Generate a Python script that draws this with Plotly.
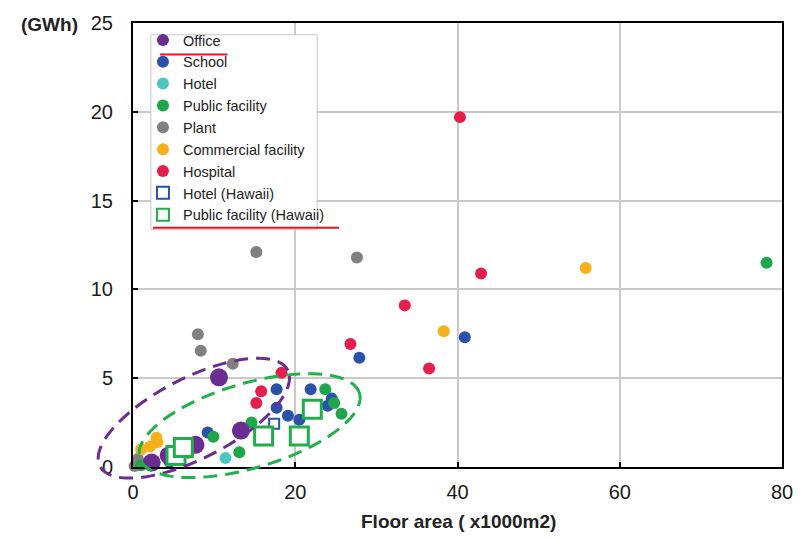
import numpy as np
import plotly.graph_objects as go

# ---- data (floor area x1000 m2, energy GWh) ----
office_x = [2.3, 4.4, 7.7, 13.3, 10.6]
office_y = [0.25, 0.65, 1.25, 2.05, 5.05]

school_x = [40.9, 27.9, 17.7, 17.7, 19.1, 20.5, 21.9, 24.0, 24.5, 9.2, 4.5]
school_y = [7.3, 6.15, 4.38, 3.33, 2.88, 2.66, 4.38, 3.45, 3.85, 1.94, 0.3]

hotel_x = [11.4]
hotel_y = [0.5]

public_x = [78.1, 23.7, 24.8, 25.7, 14.6, 9.9, 13.1, 1.0]
public_y = [11.5, 4.38, 3.6, 3.0, 2.5, 1.7, 0.83, 0.1]

plant_x = [15.2, 27.6, 8.0, 8.35, 12.3, 0.2, 0.6]
plant_y = [12.1, 11.8, 7.48, 6.54, 5.82, 0.05, 0.45]

commercial_x = [55.8, 38.3, 1.0, 2.1, 3.0, 2.9]
commercial_y = [11.2, 7.65, 1.0, 1.15, 1.4, 1.65]

hospital_x = [40.3, 42.9, 33.5, 26.8, 36.5, 18.3, 15.8, 15.2, 6.8]
hospital_y = [19.7, 10.9, 9.1, 6.93, 5.54, 5.3, 4.27, 3.6, 0.8]

hotel_hi_x = [17.4]
hotel_hi_y = [2.44]

public_hi_x = [5.3, 6.2, 16.1, 20.5, 22.1]
public_hi_y = [0.65, 1.1, 1.75, 1.75, 3.25]

x_ticks = [0, 20, 40, 60, 80]
y_ticks = [0, 5, 10, 15, 20, 25]
X_MAX, Y_MAX = 80, 25

# ---- figure ----
W, H = 805, 538
ML, MR, MT, MB = 133, 20, 16, 71
PW, PH = W - ML - MR, H - MT - MB
FONT = "Liberation Sans, Arial"

fig = go.Figure()

def circ(name, xs, ys, color, size, rank):
    fig.add_trace(go.Scatter(
        x=xs, y=ys, mode="markers", name=name, legendrank=rank,
        marker=dict(color=color, size=size, line=dict(width=0)),
        cliponaxis=False))

# drawing order (bottom -> top); legend order by rank
circ("Plant", plant_x, plant_y, "#808080", 12, 5)
circ("Commercial facility", commercial_x, commercial_y, "#f5b21c", 12, 6)
circ("Hospital", hospital_x, hospital_y, "#e61e4b", 12, 7)
circ("School", school_x, school_y, "#2a52a6", 12, 2)
circ("Hotel", hotel_x, hotel_y, "#4cc6c2", 12, 3)
circ("Public facility", public_x, public_y, "#1ea64b", 12, 4)
circ("Office", office_x, office_y, "#6b2d91", 18, 1)

fig.add_trace(go.Scatter(
    x=hotel_hi_x, y=hotel_hi_y, mode="markers", name="Hotel (Hawaii)", legendrank=8,
    marker=dict(symbol="square", color="white", size=10,
                line=dict(color="#2a52a6", width=2)),
    cliponaxis=False))
fig.add_trace(go.Scatter(
    x=public_hi_x, y=public_hi_y, mode="markers", name="Public facility (Hawaii)", legendrank=9,
    marker=dict(symbol="square", color="white", size=18,
                line=dict(color="#22ad4c", width=3)),
    cliponaxis=False))

# ---- annotation shapes (dashed ellipses, legend box, red underlines) ----
def ellipse_path(cx, cy, ax, ay, bx, by, n=120):
    t = np.linspace(0, 2 * np.pi, n)
    xs = cx + ax * np.cos(t) + bx * np.sin(t)
    ys = cy + ay * np.cos(t) + by * np.sin(t)
    pts = [f"{x / X_MAX:.5f},{y / Y_MAX:.5f}" for x, y in zip(xs, ys)]
    return "M " + " L ".join(pts) + " Z"

def px2paper(px, py):
    return (px - ML) / PW, 1 - (py - MT) / PH

shapes = [
    dict(type="path", xref="paper", yref="paper",
         path=ellipse_path(7.5, 2.75, 11.6, 2.68, -2.13, 2.05),
         line=dict(color="#6b2d91", width=3, dash="14px,8px"), layer="above"),
    dict(type="path", xref="paper", yref="paper",
         path=ellipse_path(14.37, 2.33, 13.54, 1.83, -1.51, 2.28),
         line=dict(color="#22b04b", width=3, dash="14px,8px"), layer="above"),
]

bx0, by0 = px2paper(151, 28)
bx1, by1 = px2paper(318, 226)
shapes.append(dict(type="rect", xref="paper", yref="paper",
                   x0=bx0, y0=by0, x1=bx1, y1=by1,
                   fillcolor="white", line=dict(color="#c8c8c8", width=1), layer="above"))

for (x0, x1, yy) in [(160, 228, 48), (153, 340, 224)]:
    a = px2paper(x0, yy)
    b = px2paper(x1, yy)
    shapes.append(dict(type="line", xref="paper", yref="paper",
                       x0=a[0], y0=a[1], x1=b[0], y1=b[1],
                       line=dict(color="#e8141e", width=2), layer="above"))

lx, ly = px2paper(143, 17)
tx, ty = px2paper(460, 522)
gx, gy = px2paper(49, 18)

axis_common = dict(showline=True, linecolor="black", linewidth=2, mirror=True,
                   ticks="inside", ticklen=5, tickwidth=2, tickcolor="black",
                   showgrid=True, gridcolor="#c9c9c9", gridwidth=1.5, zeroline=False,
                   tickfont=dict(family=FONT, size=20, color="#1a1a1a"))

fig.update_layout(
    width=W, height=H,
    margin=dict(l=ML, r=MR, t=MT, b=MB),
    paper_bgcolor="white", plot_bgcolor="white",
    xaxis=dict(range=[0, X_MAX], tickvals=x_ticks, ticklabelstandoff=6, **axis_common),
    yaxis=dict(range=[0, Y_MAX], tickvals=y_ticks, ticklabelstandoff=14, **axis_common),
    showlegend=True,
    legend=dict(x=lx, y=ly, xanchor="left", yanchor="top",
                bgcolor="rgba(0,0,0,0)", borderwidth=0,
                font=dict(family=FONT, size=14.5, color="#222222"),
                itemsizing="constant", traceorder="normal"),
    shapes=shapes,
    annotations=[
        dict(text="<b>(GWh)</b>", xref="paper", yref="paper", x=gx, y=gy,
             xanchor="center", yanchor="middle", showarrow=False,
             font=dict(family=FONT, size=19, color="#222222")),
        dict(text="<b>Floor area ( x1000m2)</b>", xref="paper", yref="paper", x=tx, y=ty,
             xanchor="center", yanchor="middle", showarrow=False,
             font=dict(family=FONT, size=19, color="#222222")),
    ],
)

fig.write_html("out.html")
